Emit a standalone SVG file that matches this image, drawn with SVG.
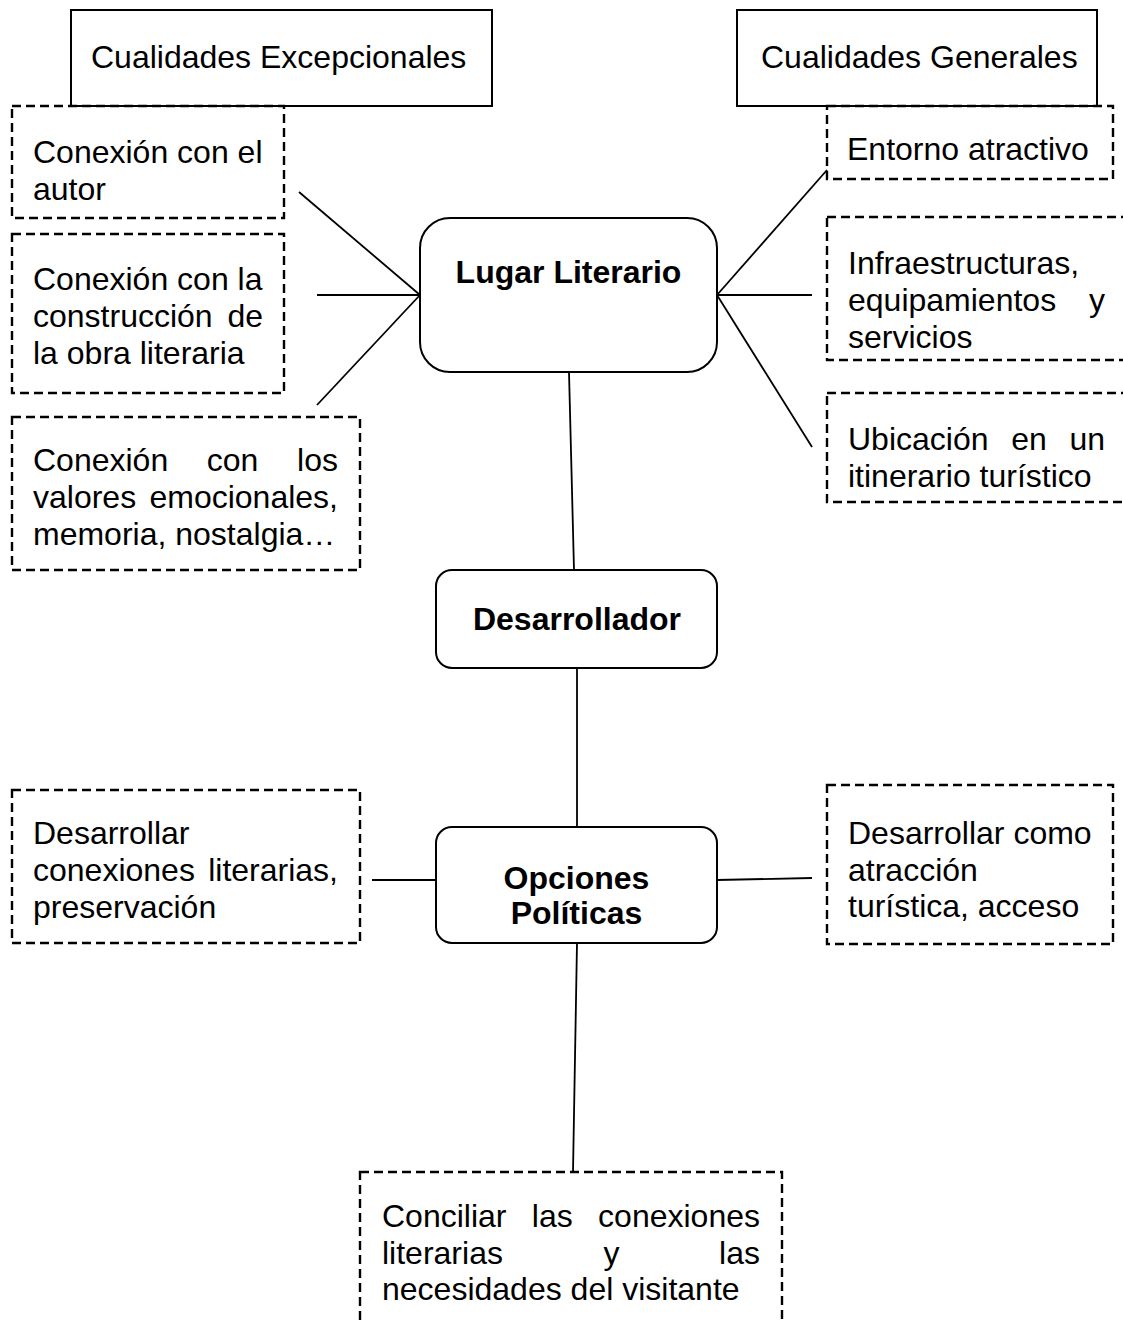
<svg xmlns="http://www.w3.org/2000/svg" width="1123" height="1322" viewBox="0 0 1123 1322">
<style>
.t{font-family:"Liberation Sans",Arial,sans-serif;font-size:32px;fill:#000}
.b{font-weight:bold}
.hdr{fill:#fff;stroke:#000;stroke-width:2}
.dash{fill:none;stroke:#000;stroke-width:2.4;stroke-dasharray:9 5}
.main{fill:#fff;stroke:#000;stroke-width:2}
.c line{stroke:#000;stroke-width:1.8}
</style>
<rect width="1123" height="1322" fill="#fff"/>
<g class="c" id="connectors">
<line x1="299" y1="192" x2="420" y2="295"/>
<line x1="317" y1="295" x2="420" y2="295"/>
<line x1="317" y1="405" x2="420" y2="295"/>
<line x1="827" y1="170" x2="717" y2="295"/>
<line x1="717" y1="295" x2="812" y2="295"/>
<line x1="717" y1="295" x2="812" y2="447"/>
<line x1="569" y1="372" x2="574" y2="570"/>
<line x1="577" y1="668" x2="577" y2="827"/>
<line x1="372" y1="880" x2="436" y2="880"/>
<line x1="717" y1="880" x2="812" y2="878"/>
<line x1="577" y1="943" x2="573" y2="1172"/>
</g>
<g id="hdr-excepcionales">
<rect class="hdr" x="71" y="10" width="421" height="96"/>
<text class="t" x="91" y="68">Cualidades Excepcionales</text>
</g>
<g id="hdr-generales">
<rect class="hdr" x="737" y="10" width="360" height="96"/>
<text class="t" x="761" y="68">Cualidades Generales</text>
</g>
<g id="autor">
<rect class="dash" x="12" y="106" width="272" height="112"/>
<text class="t" x="33" y="163">Conexión con el</text>
<text class="t" x="33" y="200">autor</text>
</g>
<g id="construccion">
<rect class="dash" x="12" y="234" width="272" height="159"/>
<text class="t" x="33" y="290">Conexión con la</text>
<text class="t" x="33" y="327">construcción</text>
<text class="t" x="263" y="327" text-anchor="end">de</text>
<text class="t" x="33" y="364">la obra literaria</text>
</g>
<g id="valores">
<rect class="dash" x="12" y="417" width="348" height="153"/>
<text class="t" x="33" y="471">Conexión</text>
<text class="t" x="206.8" y="471">con</text>
<text class="t" x="338" y="471" text-anchor="end">los</text>
<text class="t" x="33" y="508">valores</text>
<text class="t" x="338" y="508" text-anchor="end">emocionales,</text>
<text class="t" x="33" y="545">memoria, nostalgia…</text>
</g>
<g id="entorno">
<rect class="dash" x="827" y="106" width="286" height="73"/>
<text class="t" x="847" y="160">Entorno atractivo</text>
</g>
<g id="infra">
<rect class="dash" x="827" y="217" width="310" height="143"/>
<text class="t" x="848" y="274">Infraestructuras,</text>
<text class="t" x="848" y="311">equipamientos</text>
<text class="t" x="1105" y="311" text-anchor="end">y</text>
<text class="t" x="848" y="348">servicios</text>
</g>
<g id="ubicacion">
<rect class="dash" x="827" y="393" width="310" height="109"/>
<text class="t" x="848" y="450">Ubicación</text>
<text class="t" x="1011.2" y="450">en</text>
<text class="t" x="1105" y="450" text-anchor="end">un</text>
<text class="t" x="848" y="487">itinerario turístico</text>
</g>
<g id="lugar">
<rect class="main" x="420" y="218" width="297" height="154" rx="30" ry="30"/>
<text class="t b" x="568.5" y="283" text-anchor="middle">Lugar Literario</text>
</g>
<g id="desarrollador">
<rect class="main" x="436" y="570" width="281" height="98" rx="16" ry="16"/>
<text class="t b" x="577" y="630" text-anchor="middle">Desarrollador</text>
</g>
<g id="opciones">
<rect class="main" x="436" y="827" width="281" height="116" rx="16" ry="16"/>
<text class="t b" x="576.5" y="889" text-anchor="middle">Opciones</text>
<text class="t b" x="576.5" y="924" text-anchor="middle">Políticas</text>
</g>
<g id="preservacion">
<rect class="dash" x="12" y="790" width="348" height="153"/>
<text class="t" x="33" y="844">Desarrollar</text>
<text class="t" x="33" y="881">conexiones</text>
<text class="t" x="338" y="881" text-anchor="end">literarias,</text>
<text class="t" x="33" y="918">preservación</text>
</g>
<g id="atraccion">
<rect class="dash" x="827" y="785" width="286" height="159"/>
<text class="t" x="848" y="844">Desarrollar como</text>
<text class="t" x="848" y="881">atracción</text>
<text class="t" x="848" y="917">turística, acceso</text>
</g>
<g id="conciliar">
<rect class="dash" x="360" y="1172" width="422" height="170"/>
<text class="t" x="382" y="1227">Conciliar</text>
<text class="t" x="531.8" y="1227">las</text>
<text class="t" x="760" y="1227" text-anchor="end">conexiones</text>
<text class="t" x="382" y="1264">literarias</text>
<text class="t" x="603.5" y="1264">y</text>
<text class="t" x="760" y="1264" text-anchor="end">las</text>
<text class="t" x="382" y="1300">necesidades del visitante</text>
</g>
</svg>
